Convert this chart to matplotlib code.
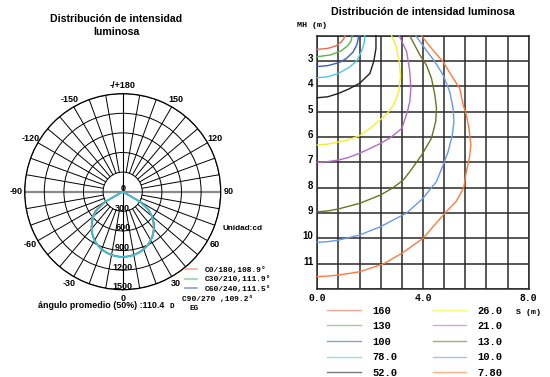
import numpy as np
import matplotlib
matplotlib.use('Agg')
import matplotlib.pyplot as plt
from matplotlib.transforms import ScaledTranslation

plt.rcParams['font.family'] = ['Liberation Sans', 'DejaVu Sans']
MONO = ['Liberation Mono', 'DejaVu Sans Mono']

# --- polar intensity curves (cd), angle in deg, negative side = second half-plane
polar_angles = list(range(-90, 95, 5))
c0_180 = [0, 0, 0, 0, 0, 0, 340, 520, 610, 675, 745, 805, 860, 900, 935, 960, 980, 992,
          998,
          992, 980, 960, 935, 900, 855, 800, 735, 660, 575, 470, 300, 0, 0, 0, 0, 0, 0]
c30_210 = [0, 0, 0, 0, 0, 0, 315, 485, 585, 668, 742, 806, 860, 904, 938, 964, 984, 994,
           1000,
           994, 984, 964, 938, 905, 862, 810, 752, 682, 592, 490, 315, 0, 0, 0, 0, 0, 0]
c60_240 = [0, 0, 0, 0, 0, 0, 312, 482, 582, 666, 741, 805, 860, 904, 939, 965, 985, 995,
           1000,
           995, 985, 965, 940, 905, 861, 808, 745, 670, 585, 485, 312, 0, 0, 0, 0, 0, 0]
c90_270 = [0, 0, 0, 0, 0, 0, 310, 480, 580, 665, 740, 805, 860, 905, 940, 965, 985, 995,
           1000,
           995, 985, 965, 940, 905, 860, 805, 740, 665, 580, 480, 310, 0, 0, 0, 0, 0, 0]
polar_names = ['C0/180,108.9°', 'C30/210,111.9°', 'C60/240,111.5°', 'C90/270 ,109.2°']
polar_colors = ['#f07a68', '#5cc05c', '#4a6cc8', '#3cc4d8']
ring_values = [300, 600, 900, 1200, 1500]
angle_ticks = [-150, -120, -90, -60, -30, 0, 30, 60, 90, 120, 150, 180]
angle_labels = ['-150', '-120', '-90', '-60', '-30', '0', '30', '60', '90', '120', '150', '-/+180']

# --- isolux curves (S in m, MH in m)
x_160 = [0, 0.4, 0.7, 0.9, 1.0, 1.05]
y_160 = [2.54, 2.50, 2.40, 2.25, 2.12, 2.0]
x_130 = [0, 0.5, 0.9, 1.15, 1.28, 1.32]
y_130 = [2.83, 2.76, 2.60, 2.40, 2.20, 2.0]
x_100 = [0, 0.4, 0.8, 1.1, 1.35, 1.5, 1.57]
y_100 = [3.22, 3.18, 3.07, 2.90, 2.65, 2.35, 2.0]
x_78 = [0, 0.4, 0.8, 1.2, 1.49, 1.68, 1.78, 1.80]
y_78 = [3.66, 3.62, 3.49, 3.25, 3.0, 2.6, 2.25, 2.0]
x_52 = [0, 0.4, 0.8, 1.2, 1.6, 1.99, 2.14, 2.22, 2.22]
y_52 = [4.45, 4.41, 4.28, 4.10, 3.88, 3.49, 3.0, 2.5, 2.0]
x_26 = [2.81, 2.98, 3.10, 3.15, 3.08, 2.90, 2.70, 2.40, 2.0, 1.6, 1.2, 0.8, 0.4, 0]
y_26 = [2.0, 2.4, 3.0, 3.6, 4.2, 4.7, 5.0, 5.3, 5.65, 5.95, 6.1, 6.2, 6.28, 6.32]
x_21 = [3.10, 3.38, 3.50, 3.54, 3.50, 3.41, 3.2, 2.8, 2.4, 2.0, 1.6, 1.2, 0.8, 0.4, 0]
y_21 = [2.0, 2.63, 3.4, 4.1, 4.6, 5.0, 5.66, 6.0, 6.25, 6.45, 6.64, 6.8, 6.91, 6.97, 7.0]
x_13 = [3.5, 3.88, 4.13, 4.32, 4.45, 4.51, 4.48, 4.32, 3.95, 3.5, 3.25, 2.87, 2.39, 1.6, 0.8, 0.4, 0]
y_13 = [2.0, 2.76, 3.16, 3.68, 4.34, 4.87, 5.39, 6.05, 6.71, 7.37, 7.7, 8.0, 8.29, 8.62, 8.84, 8.92, 8.95]
x_10 = [3.73, 4.07, 4.45, 4.76, 5.01, 5.14, 5.17, 5.11, 4.95, 4.80, 4.51, 4.32, 4.0, 3.38, 2.39, 1.6, 0.8, 0.4, 0]
y_10 = [2.0, 2.5, 3.03, 3.55, 4.21, 4.87, 5.39, 5.92, 6.58, 7.0, 7.76, 8.0, 8.42, 9.0, 9.54, 9.87, 10.07, 10.13, 10.16]
x_78b = [3.94, 4.32, 4.76, 5.14, 5.39, 5.52, 5.64, 5.74, 5.81, 5.76, 5.64, 5.54, 5.25, 4.83, 4.0, 3.2, 2.52, 1.6, 0.8, 0.4, 0]
y_78b = [2.0, 2.5, 3.03, 3.68, 4.08, 4.74, 5.13, 5.66, 6.32, 6.8, 7.37, 8.0, 8.55, 9.0, 10.0, 10.59, 11.0, 11.32, 11.45, 11.49, 11.51]
iso_levels = ['160', '130', '100', '78.0', '52.0', '26.0', '21.0', '13.0', '10.0', '7.80']
iso_colors = ['#f26b4f', '#55b848', '#3f5fc0', '#4cc8dc', '#202020',
              '#f2f02a', '#b46cc4', '#6c7420', '#6a98e6', '#ff7a3c']
s_grid = [0.0, 0.8, 1.6, 2.4, 3.2, 4.0, 4.8, 5.6, 6.4, 7.2, 8.0]
s_ticks = [0.0, 4.0, 8.0]
mh_ticks = [3, 4, 5, 6, 7, 8, 9, 10, 11]

W, H = 550, 377
fig = plt.figure(figsize=(W / 100, H / 100), dpi=100)

def up(px):
    return ScaledTranslation(0, px / 100, fig.dpi_scale_trans)

# ================= polar chart =================
cx, cy, R = 122.7, 191.7, 98
ax = fig.add_axes([(cx - R) / W, 1 - (cy + R) / H, 2 * R / W, 2 * R / H], projection='polar')
ax.set_theta_zero_location('S')
ax.set_theta_direction(1)
ax.set_ylim(0, 1500)
ax.set_xticks([])
ax.set_yticks(ring_values)
ax.set_yticklabels([])
ax.xaxis.grid(False)
ax.yaxis.grid(True, color='black', lw=0.7)
ax.spines['polar'].set_linewidth(0.9)

for t in range(-170, 181, 10):
    if t in (0, 90, -90, 180):
        continue
    ax.plot([np.deg2rad(t)] * 2, [300, 1500], color='black', lw=0.7, zorder=1)
for t in (0, 180):
    ax.plot([np.deg2rad(t)] * 2, [0, 1500], color='black', lw=0.8, zorder=1)
for t in (90, -90):
    ax.plot([np.deg2rad(t)] * 2, [0, 1500], color='#8a8a8a', lw=1.6, zorder=1)

th = np.deg2rad(polar_angles)
polar_lines = []
for vals, col, name in zip([c0_180, c30_210, c60_240, c90_270], polar_colors, polar_names):
    ln, = ax.plot(th, vals, color=col, lw=1.1, label=name, zorder=3)
    polar_lines.append(ln)

tr = ax.transData
ax.text(0, 0, '0', transform=tr + up(3.5), ha='center', va='center',
        fontsize=6.5, fontweight='bold', zorder=4)
for r in ring_values:
    ax.text(0, r, str(r), transform=tr + up(3), ha='center', va='center',
            fontsize=6.5, fontweight='bold', zorder=4)
for t, lab in zip(angle_ticks, angle_labels):
    ax.text(np.deg2rad(t), 1630, lab, ha='center', va='center',
            fontsize=6.5, fontweight='bold')

leg1 = ax.legend(handles=polar_lines[:3], loc='upper left',
                 bbox_to_anchor=(185 / W, 1 - 266.5 / H), bbox_transform=fig.transFigure,
                 frameon=False, borderpad=0, borderaxespad=0, handlelength=1.5,
                 handletextpad=1.05, labelspacing=0.22,
                 prop={'family': MONO, 'weight': 'bold', 'size': 5.7})
fig.text(181.7 / W, 1 - 300 / H, polar_names[3], ha='left', va='center',
         family=MONO, fontweight='bold', fontsize=5.7)

fig.text(116 / W, 1 - 19 / H, 'Distribución de intensidad', ha='center', va='center',
         fontsize=7.6, fontweight='bold')
fig.text(116 / W, 1 - 32 / H, 'luminosa', ha='center', va='center',
         fontsize=7.6, fontweight='bold')
fig.text(222.7 / W, 1 - 228.3 / H, 'Unidad:cd', ha='left', va='center',
         fontsize=5.9, fontweight='bold')
fig.text(38.3 / W, 1 - 306 / H, 'ángulo promedio (50%) :110.4', ha='left', va='center',
         fontsize=6.4, fontweight='bold')
fig.text(170 / W, 1 - 306.5 / H, 'D', ha='left', va='center',
         family=MONO, fontweight='bold', fontsize=5.5)
fig.text(189 / W, 1 - 308 / H, 'EG', ha='left', va='center',
         family=MONO, fontweight='bold', fontsize=5.5)

# ================= isolux chart =================
x0, x1, y0, y1 = 317.3, 528.7, 35.7, 289.0
ax2 = fig.add_axes([x0 / W, 1 - y1 / H, (x1 - x0) / W, (y1 - y0) / H])
ax2.set_xlim(0, 8)
ax2.set_ylim(12, 2)
ax2.set_xticks(s_grid, minor=True)
ax2.set_xticks(s_ticks)
ax2.set_xticklabels(['%.1f' % v for v in s_ticks], family=MONO, fontweight='bold', fontsize=7)
ax2.set_yticks(list(range(2, 13)), minor=True)
ax2.set_yticks(mh_ticks)
ax2.set_yticklabels([str(v) for v in mh_ticks], fontweight='bold', fontsize=7)
ax2.tick_params(which='both', length=0)
ax2.tick_params(axis='y', pad=3)
ax2.tick_params(axis='x', pad=3)
ax2.grid(which='both', color='#2a2a2a', lw=1.1)
for sp in ax2.spines.values():
    sp.set_color('#2a2a2a')
    sp.set_linewidth(1.1)
for lab in ax2.get_yticklabels():
    lab.set_transform(lab.get_transform() + up(3))

iso_x = [x_160, x_130, x_100, x_78, x_52, x_26, x_21, x_13, x_10, x_78b]
iso_y = [y_160, y_130, y_100, y_78, y_52, y_26, y_21, y_13, y_10, y_78b]
iso_lines = []
for xs, ys, col, lev in zip(iso_x, iso_y, iso_colors, iso_levels):
    ln, = ax2.plot(xs, ys, color=col, lw=1.0, label=lev, clip_on=False, zorder=3)
    iso_lines.append(ln)

leg2 = ax2.legend(handles=iso_lines, ncol=2, loc='upper left',
                  bbox_to_anchor=(327.3 / W, 1 - 305.5 / H), bbox_transform=fig.transFigure,
                  frameon=False, borderpad=0, borderaxespad=0, handlelength=3.2,
                  handletextpad=1.1, labelspacing=0.54, columnspacing=3.4,
                  prop={'family': MONO, 'weight': 'bold', 'size': 7.5})
for h in leg2.legend_handles:
    h.set_alpha(0.6)
for h in leg1.legend_handles:
    h.set_alpha(0.7)

fig.text(423 / W, 1 - 12 / H, 'Distribución de intensidad luminosa', ha='center', va='center',
         fontsize=7.7, fontweight='bold')
fig.text(312 / W, 1 - 25.5 / H, 'MH (m)', ha='center', va='center',
         family=MONO, fontweight='bold', fontsize=6)
fig.text(529 / W, 1 - 313 / H, 'S (m)', ha='center', va='center',
         family=MONO, fontweight='bold', fontsize=6)

fig.savefig('out.png', dpi=100)
